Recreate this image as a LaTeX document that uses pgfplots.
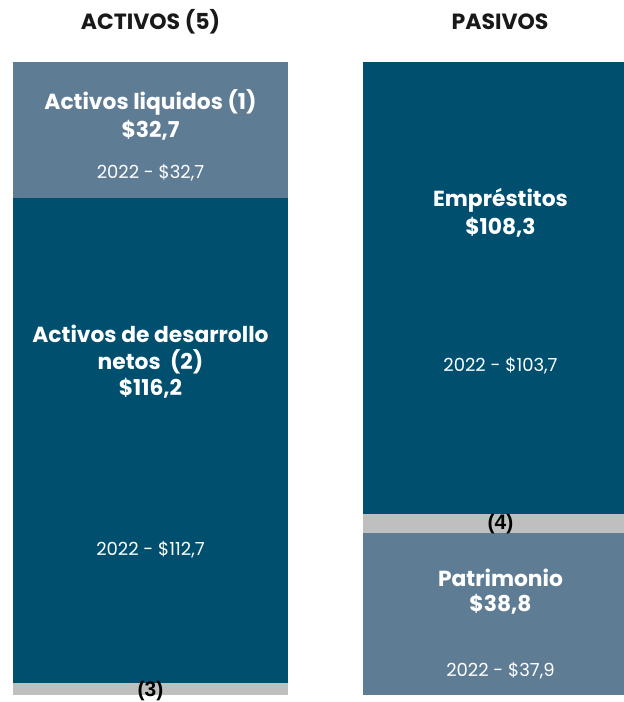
\documentclass[border=0pt]{standalone}
\usepackage{pgfplots}
\pgfplotsset{compat=1.18}
\usepackage{fontspec}
\setmainfont{Poppins}
\newfontfamily\arialfont{Liberation Sans}
\definecolor{claro}{HTML}{5F7C95}
\definecolor{oscuro}{HTML}{004F6F}
\definecolor{gris}{HTML}{BFBFBF}
\tikzset{
  lbl/.style={text=white, inner sep=0pt, font=\bfseries\fontsize{10.9}{12}\selectfont},
  yr/.style={text=white, inner sep=0pt, font=\fontsize{9}{10}\selectfont},
  ttl/.style={text=black!90, inner sep=0pt, font=\bfseries\fontsize{11}{12}\selectfont},
  nota/.style={text=black, inner sep=0pt, font=\arialfont\bfseries\fontsize{10.5}{11}\selectfont},
}
\begin{document}
\begin{tikzpicture}
\begin{axis}[
  scale only axis,
  width=312pt, height=351pt,
  xmin=0, xmax=624,
  ymin=-1.68, ymax=166.7,
  hide axis,
  ybar stacked,
  bar width=275,
  clip=true,
]
% abajo -> arriba; izquierda = activos, derecha = pasivos
\addplot[fill=gris, draw=none]   coordinates {(150.5,2.9)   (500.5,0)};
\addplot[fill=claro, draw=none]  coordinates {(150.5,0)     (500.5,38.8)};
\addplot[fill=oscuro, draw=none] coordinates {(150.5,116.2) (500.5,0)};
\addplot[fill=gris, draw=none]   coordinates {(150.5,0)     (500.5,4.7)};
\addplot[fill=claro, draw=none]  coordinates {(150.5,32.7)  (500.5,0)};
\addplot[fill=oscuro, draw=none] coordinates {(150.5,0)     (500.5,108.3)};

% posiciones de los textos
\coordinate (t1) at (axis cs:150.5,161.6);
\coordinate (t2) at (axis cs:500,161.6);
\coordinate (a1) at (axis cs:150.5,142.2);
\coordinate (a2) at (axis cs:150.5,135.5);
\coordinate (a3) at (axis cs:150.5,125.2);
\coordinate (b1) at (axis cs:150.5,86.6);
\coordinate (b2) at (axis cs:150.5,79.9);
\coordinate (b3) at (axis cs:150.5,73.6);
\coordinate (b4) at (axis cs:150.5,34.8);
\coordinate (n3) at (axis cs:150.5,1.0);
\coordinate (e1) at (axis cs:500.5,118.7);
\coordinate (e2) at (axis cs:500.5,112.2);
\coordinate (e3) at (axis cs:500.5,79.1);
\coordinate (n4) at (axis cs:500.5,41.0);
\coordinate (p1) at (axis cs:500.5,28.1);
\coordinate (p2) at (axis cs:500.5,21.8);
\coordinate (p3) at (axis cs:500.5,5.8);
\end{axis}

\pgfresetboundingbox
\path (current axis.south west) rectangle (current axis.north east);

\node[ttl] at (t1) {ACTIVOS (5)};
\node[ttl] at (t2) {PASIVOS};
\node[lbl] at (a1) {Activos liquidos (1)};
\node[lbl] at (a2) {\$32,7};
\node[yr]  at (a3) {2022 - \$32,7};
\node[lbl] at (b1) {Activos de desarrollo};
\node[lbl] at (b2) {netos\ \ (2)};
\node[lbl] at (b3) {\$116,2};
\node[yr]  at (b4) {2022 - \$112,7};
\node[nota] at (n3) {(3)};
\node[lbl] at (e1) {Empréstitos};
\node[lbl] at (e2) {\$108,3};
\node[yr]  at (e3) {2022 - \$103,7};
\node[nota] at (n4) {(4)};
\node[lbl] at (p1) {Patrimonio};
\node[lbl] at (p2) {\$38,8};
\node[yr]  at (p3) {2022 - \$37,9};
\end{tikzpicture}
\end{document}
